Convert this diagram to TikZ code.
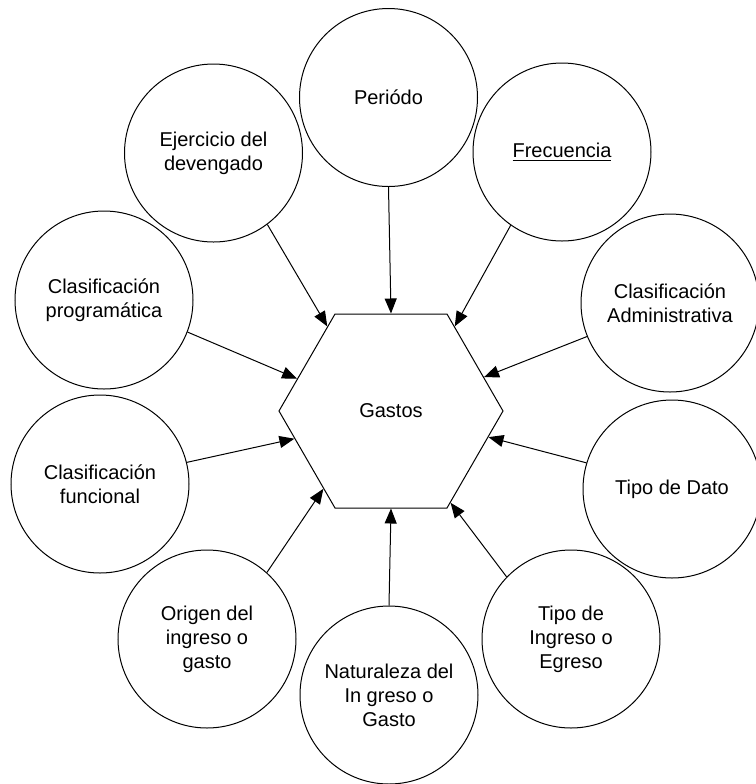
\documentclass[tikz,border=0pt]{standalone}
\usepackage{fontspec}
\setmainfont{Liberation Sans}
\usetikzlibrary{shapes.geometric,arrows.meta}
\tikzstyle{diagram} = [x = .5pt, y = -.5pt]
\tikzstyle{circleStyle} = [draw, circle, minimum size = 89pt, inner sep = 0pt, align = center, line width = .5pt, font = \fontsize{10}{12}\selectfont]
\tikzstyle{hexStyle} = [draw, regular polygon, regular polygon sides = 6, minimum size = 112pt, inner sep = 0pt, line width = .5pt, font = \fontsize{10}{12}\selectfont]
\tikzstyle{arrowStyle} = [-{Triangle[length = 7.5pt, width = 6pt]}, line width = .5pt]
\begin{document}
\begin{tikzpicture}[diagram]
  \useasboundingbox (0,0) rectangle (756,784);
  % centre
  \node [hexStyle] (gastos) at (391,411) {Gastos};
  % ring of circles
  \node [circleStyle] (periodo) at (388.5,97.5) {Periódo};
  \node [circleStyle] (ejercicio) at (213.5,153) {Ejercicio del\\devengado};
  \node [circleStyle] (frecuencia) at (562,152) {\underline{Frecuencia}};
  \node [circleStyle] (programatica) at (104,300) {Clasificación\\programática};
  \node [circleStyle] (administrativa) at (670,303) {Clasificación\\Administrativa};
  \node [circleStyle] (funcional) at (100,484) {Clasificación\\funcional};
  \node [circleStyle] (tipoDato) at (672,489) {Tipo de Dato};
  \node [circleStyle] (origen) at (207,639) {Origen del\\ingreso o\\gasto};
  \node [circleStyle] (naturaleza) at (389,695) {Naturaleza del\\In greso o\\Gasto};
  \node [circleStyle] (tipoIngreso) at (571,639) {Tipo de\\Ingreso o\\Egreso};
  % arrows into the hexagon
  \draw [arrowStyle] (periodo.-90) -- (gastos.90);
  \draw [arrowStyle] (ejercicio.-53) -- (gastos.127.6);
  \draw [arrowStyle] (frecuencia.235) -- (gastos.53);
  \draw [arrowStyle] (programatica.-21) -- (gastos.161.6);
  \draw [arrowStyle] (administrativa.202.5) -- (gastos.20.8);
  \draw [arrowStyle] (funcional.14) -- (gastos.196.8);
  \draw [arrowStyle] (tipoDato.163.3) -- (gastos.-15.7);
  \draw [arrowStyle] (origen.48.6) -- (gastos.229.3);
  \draw [arrowStyle] (naturaleza.90) -- (gastos.-90);
  \draw [arrowStyle] (tipoIngreso.136.4) -- (gastos.-57.8);
\end{tikzpicture}
\end{document}
